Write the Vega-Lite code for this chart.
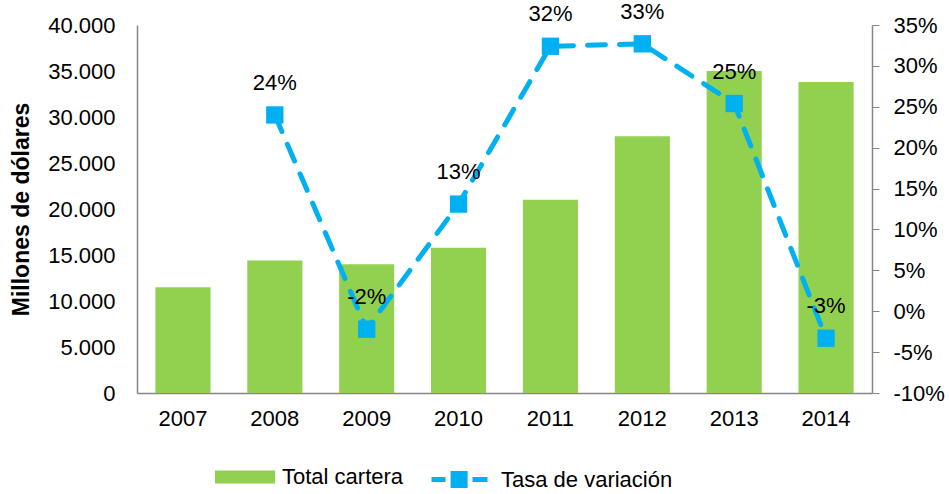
{
  "$schema": "https://vega.github.io/schema/vega-lite/v6.json",
  "width": 735,
  "height": 368,
  "autosize": {"type": "none"},
  "padding": {"left": 137, "top": 25, "right": 77, "bottom": 101},
  "background": "white",
  "config": {
    "font": "Liberation Sans",
    "view": {"stroke": null},
    "locale": {"number": {"decimal": ",", "thousands": ".", "grouping": [3], "currency": ["$", ""], "minus": "-"}},
    "axis": {"labelFont": "Liberation Sans", "labelFontSize": 22, "labelColor": "#000000", "domainColor": "#868686", "domainWidth": 1.5, "grid": false, "tickColor": "#868686"},
    "legend": {"labelFont": "Liberation Sans", "labelFontSize": 22, "labelColor": "#000000", "padding": 0, "labelLimit": 400}
  },
  "data": {
    "values": [
      {"year": "2007", "total": 11500, "rate": null},
      {"year": "2008", "total": 14400, "rate": 0.240},
      {"year": "2009", "total": 14000, "rate": -0.022},
      {"year": "2010", "total": 15800, "rate": 0.131},
      {"year": "2011", "total": 21000, "rate": 0.324},
      {"year": "2012", "total": 27900, "rate": 0.327},
      {"year": "2013", "total": 35000, "rate": 0.254},
      {"year": "2014", "total": 33800, "rate": -0.033}
    ]
  },
  "encoding": {
    "x": {
      "field": "year", "type": "ordinal", "title": null,
      "scale": {"paddingInner": 0.4, "paddingOuter": 0.2},
      "axis": {"labelAngle": 0, "ticks": false, "labelPadding": 15}
    }
  },
  "layer": [
    {
      "mark": {"type": "bar", "color": "#92D050"},
      "encoding": {
        "y": {
          "field": "total", "type": "quantitative",
          "title": "Millones de dólares",
          "scale": {"domain": [0, 40000]},
          "axis": {"values": [0, 5000, 10000, 15000, 20000, 25000, 30000, 35000, 40000], "format": ",.0f", "ticks": false, "labelPadding": 22, "titleFontSize": 23, "titleFontWeight": "bold", "titleColor": "#000000", "titlePadding": 14}
        },
        "color": {
          "datum": "Total cartera",
          "scale": {"range": ["#92D050"]},
          "legend": {"orient": "none", "legendX": 88, "legendY": 432, "title": null, "symbolType": "M-1.5,-0.32H1.5V0.32H-1.5Z", "symbolSize": 1600, "symbolStrokeWidth": 0, "symbolFillColor": "#92D050", "labelOffset": 17}
        }
      }
    },
    {
      "transform": [{"filter": "isValid(datum.rate)"}],
      "encoding": {
        "y": {
          "field": "rate", "type": "quantitative", "title": null,
          "scale": {"domain": [-0.10, 0.35]},
          "axis": {"orient": "right", "values": [-0.10, -0.05, 0, 0.05, 0.10, 0.15, 0.20, 0.25, 0.30, 0.35], "format": ".0%", "tickSize": 7, "labelPadding": 14}
        }
      },
      "layer": [
        {
          "mark": {"type": "line", "strokeWidth": 5, "strokeDash": [18, 14], "strokeCap": "round"},
          "encoding": {
            "color": {
              "datum": "Tasa de variación",
              "scale": {"range": ["#00B0F0"]},
              "legend": {"orient": "none", "legendX": 300, "legendY": 432, "title": null, "symbolType": "M-1.4,0H-0.7M-0.32,-0.3H0.28V0.3H-0.32ZM0.65,0H1.4", "symbolSize": 1600, "symbolStrokeWidth": 5, "symbolFillColor": "#00B0F0", "symbolStrokeColor": "#00B0F0", "labelOffset": 19}
            }
          }
        },
        {
          "mark": {"type": "point", "shape": "square", "size": 300, "filled": true, "color": "#00B0F0", "opacity": 1}
        },
        {
          "mark": {"type": "text", "dy": -32, "fontSize": 22, "color": "#000000"},
          "encoding": {"text": {"field": "rate", "type": "quantitative", "format": ".0%"}}
        }
      ]
    }
  ],
  "resolve": {"scale": {"y": "independent", "color": "independent"}}
}
